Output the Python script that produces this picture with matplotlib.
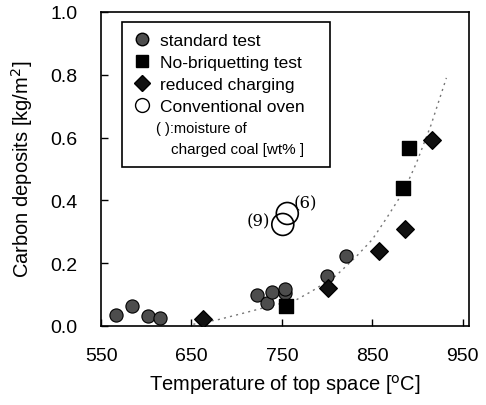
import matplotlib.pyplot as plt
from matplotlib.lines import Line2D
from matplotlib.patches import Rectangle

plt.rcParams['font.family'] = ['Liberation Sans', 'DejaVu Sans']

# standard test
std_temp = [567, 584, 602, 615, 722, 734, 739, 753, 754, 800, 821]
std_dep = [0.035, 0.064, 0.032, 0.026, 0.099, 0.073, 0.109, 0.105, 0.118, 0.160, 0.224]

# no-briquetting test
nob_temp = [755, 884, 891]
nob_dep = [0.064, 0.438, 0.566]

# reduced charging
red_temp = [663, 801, 857, 886, 916]
red_dep = [0.021, 0.120, 0.240, 0.307, 0.591]

# conventional oven, moisture label
conv_temp = [751, 756]
conv_dep = [0.323, 0.358]
conv_lab = ['(9)', '(6)']

# dotted trend
trend_temp = [652, 680, 707, 740, 766, 783, 810, 832, 850, 866, 885, 899, 915, 932]
trend_dep = [0.005, 0.02, 0.04, 0.065, 0.083, 0.11, 0.16, 0.22, 0.275, 0.344, 0.43, 0.52, 0.64, 0.79]

fig = plt.figure(figsize=(4.86, 4.06), dpi=100)
ax = fig.add_axes([0.208, 0.195, 0.757, 0.773])

ax.plot(trend_temp, trend_dep, linestyle=(0, (1.5, 3)), color='#777777', linewidth=1, zorder=1)

ax.scatter(std_temp, std_dep, s=90, marker='o', facecolor='#4d4d4d', edgecolor='black', linewidth=0.8, zorder=3)
ax.scatter(nob_temp, nob_dep, s=90, marker='s', facecolor='black', edgecolor='black', zorder=3)
ax.scatter(red_temp, red_dep, s=80, marker='D', facecolor='#111111', edgecolor='black', zorder=3)
ax.scatter(conv_temp, conv_dep, s=250, marker='o', facecolor='none', edgecolor='black', linewidth=1.2, zorder=3)

ax.text(conv_temp[0] - 14, conv_dep[0] + 0.01, conv_lab[0], fontsize=12, family='DejaVu Serif',
        ha='right', va='center')
ax.text(conv_temp[1] + 7, conv_dep[1] + 0.035, conv_lab[1], fontsize=12, family='DejaVu Serif',
        ha='left', va='center')

ax.set_xlim(550, 957)
ax.set_ylim(0, 1.0)
ax.set_xticks([550, 650, 750, 850, 950])
ax.set_yticks([0.0, 0.2, 0.4, 0.6, 0.8, 1.0])
ax.set_yticklabels(['0.0', '0.2', '0.4', '0.6', '0.8', '1.0'])
ax.tick_params(direction='in', labelsize=14, length=5, width=1)
ax.tick_params(axis='x', pad=15)
ax.tick_params(axis='y', pad=17)
for sp in ax.spines.values():
    sp.set_linewidth(1.2)

ax.set_xlabel('Temperature of top space [$^{\\mathrm{o}}$C]', fontsize=14.5, va='center')
ax.set_ylabel('Carbon deposits [kg/m$^2$]', fontsize=14.5, va='center')
ax.xaxis.set_label_coords(0.5, -0.186)
ax.yaxis.set_label_coords(-0.215, 0.503)

# legend box
ax.add_patch(Rectangle((0.056, 0.506), 0.566, 0.462, transform=ax.transAxes,
                       facecolor='white', edgecolor='black', linewidth=1.2, zorder=4))
handles = [
    Line2D([], [], marker='o', linestyle='none', markersize=9, markerfacecolor='#4d4d4d', markeredgecolor='black'),
    Line2D([], [], marker='s', linestyle='none', markersize=9, markerfacecolor='black', markeredgecolor='black'),
    Line2D([], [], marker='D', linestyle='none', markersize=8, markerfacecolor='#111111', markeredgecolor='black'),
    Line2D([], [], marker='o', linestyle='none', markersize=10, markerfacecolor='white', markeredgecolor='black'),
]
labels = ['standard test', 'No-briquetting test', 'reduced charging', 'Conventional oven']
leg = ax.legend(handles, labels, loc='upper left', bbox_to_anchor=(0.068, 0.956), frameon=False,
                fontsize=12.5, handlelength=1, handletextpad=0.55, labelspacing=0.4, borderaxespad=0)
leg.set_zorder(5)
ax.text(0.148, 0.63, '( ):moisture of', transform=ax.transAxes, fontsize=10.5, zorder=6, va='center')
ax.text(0.19, 0.562, 'charged coal [wt% ]', transform=ax.transAxes, fontsize=11, zorder=6, va='center')

fig.savefig('out.png', dpi=100)
